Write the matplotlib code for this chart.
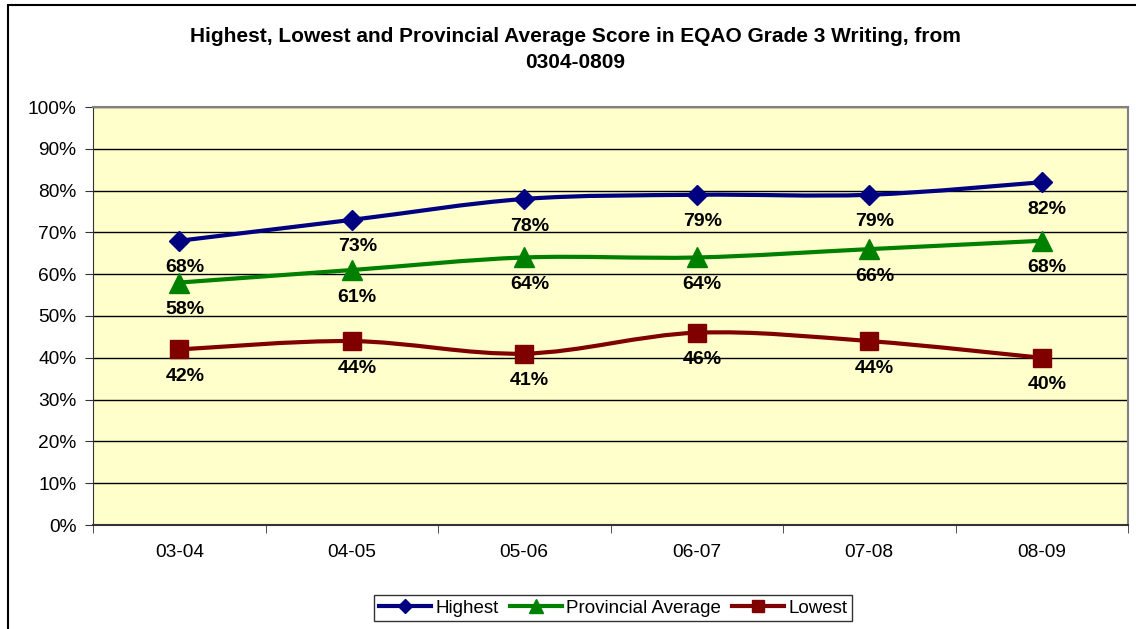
import numpy as np
import matplotlib
matplotlib.use("Agg")
import matplotlib.pyplot as plt
from matplotlib.path import Path
from matplotlib.patches import PathPatch, Rectangle
from matplotlib.lines import Line2D

plt.rcParams['font.family'] = ['Liberation Sans', 'DejaVu Sans']

# data
years = ['03-04', '04-05', '05-06', '06-07', '07-08', '08-09']
highest = [68, 73, 78, 79, 79, 82]
provincial = [58, 61, 64, 64, 66, 68]
lowest = [42, 44, 41, 46, 44, 40]
yticks = [0, 10, 20, 30, 40, 50, 60, 70, 80, 90, 100]

# name, values, colour, marker, plot marker size, legend marker size
series = [
    ('Highest', highest, '#000080', 'D', 10, 7),
    ('Provincial Average', provincial, '#008000', '^', 14, 10),
    ('Lowest', lowest, '#800000', 's', 13, 9),
]


def smooth_path(x, y):
    # Excel-style smoothed line: cubic bezier, catmull-rom control points
    px = np.concatenate([[x[0]], x, [x[-1]]])
    py = np.concatenate([[y[0]], y, [y[-1]]])
    verts = [(x[0], y[0])]
    codes = [Path.MOVETO]
    for i in range(1, len(px) - 2):
        c1 = (px[i] + (px[i + 1] - px[i - 1]) / 6, py[i] + (py[i + 1] - py[i - 1]) / 6)
        c2 = (px[i + 1] - (px[i + 2] - px[i]) / 6, py[i + 1] - (py[i + 2] - py[i]) / 6)
        verts += [c1, c2, (px[i + 1], py[i + 1])]
        codes += [Path.CURVE4] * 3
    return Path(verts, codes)


fig = plt.figure(figsize=(11.36, 6.29), dpi=100)
W, H = 1136, 629

# outer chart border (runs off right/bottom like the screenshot)
fig.patches.append(Rectangle((8 / W, -0.05), 1.2, 1 - 5 / H + 0.05,
                             transform=fig.transFigure, fill=False,
                             edgecolor='black', linewidth=1.5))

ax = fig.add_axes([93 / W, 1 - 525 / H, (1128 - 93) / W, (525 - 107) / H])
ax.set_facecolor('#FFFFCC')

x = np.arange(len(years))
for name, vals, color, marker, ms, _ in series:
    ax.add_patch(PathPatch(smooth_path(x.astype(float), np.array(vals, float)),
                           facecolor='none', edgecolor=color, linewidth=3,
                           zorder=3, capstyle='round', joinstyle='round'))
    ax.plot(x, vals, linestyle='none', marker=marker, markersize=ms,
            color=color, zorder=4)
    for xi, v in zip(x, vals):
        ax.annotate(f'{v}%', (xi, v), xytext=(4, -19.5), textcoords='offset points',
                    ha='center', va='center', fontsize=14, fontweight='bold',
                    zorder=5)

ax.set_xlim(-0.5, len(years) - 0.5)
ax.set_ylim(0, 100)
ax.set_yticks(yticks)
ax.set_yticklabels([f'{t}%' for t in yticks], fontsize=13.8)
ax.set_xticks(x)
ax.set_xticklabels(years, fontsize=13.8)
ax.set_xticks(np.arange(-0.5, len(years)), minor=True)
ax.tick_params(axis='x', which='major', length=0, pad=14)
ax.tick_params(axis='x', which='minor', length=6, direction='out', color='#333333')
ax.tick_params(axis='y', length=6, direction='out', color='#333333', pad=6)
ax.yaxis.grid(True, color='black', linewidth=1)
ax.set_axisbelow(True)
for side in ['top', 'right']:
    ax.spines[side].set_color('#808080')
    ax.spines[side].set_linewidth(1.5)
ax.spines['left'].set_color('#333333')
ax.spines['bottom'].set_color('#333333')
ax.spines['bottom'].set_linewidth(1.5)

fig.text(575 / W, 1 - 37 / H, 'Highest, Lowest and Provincial Average Score in EQAO Grade 3 Writing, from',
         ha='center', va='center', fontsize=15, fontweight='bold')
fig.text(575 / W, 1 - 62 / H, '0304-0809',
         ha='center', va='center', fontsize=15, fontweight='bold')

handles = [Line2D([], [], color=c, marker=m, markersize=lms, linewidth=3)
           for _, _, c, m, _, lms in series]
leg = fig.legend(handles, [s[0] for s in series], loc='center',
                 bbox_to_anchor=(613 / W, 1 - 608 / H), ncol=3, fontsize=13.5,
                 frameon=True, fancybox=False, handlelength=2.8,
                 handletextpad=0.2, columnspacing=0.6, borderpad=0.25)
leg.get_frame().set_edgecolor('black')
leg.get_frame().set_linewidth(1)

fig.savefig('out.png', dpi=100)
